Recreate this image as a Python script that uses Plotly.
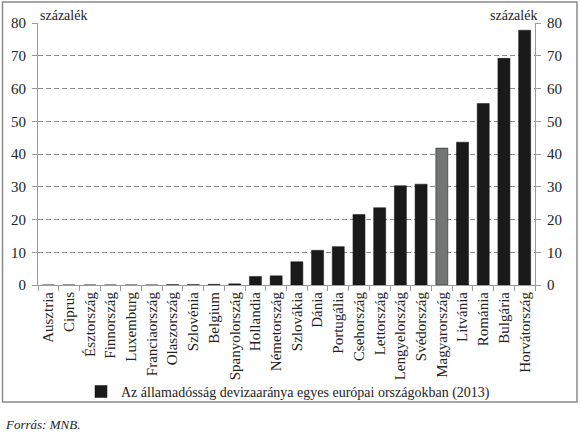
import plotly.graph_objects as go

countries = ["Ausztria", "Ciprus", "Észtország", "Finnország", "Luxemburg",
             "Franciaország", "Olaszország", "Szlovénia", "Belgium", "Spanyolország",
             "Hollandia", "Németország", "Szlovákia", "Dánia", "Portugália",
             "Csehország", "Lettország", "Lengyelország", "Svédország", "Magyarország",
             "Litvánia", "Románia", "Bulgária", "Horvátország"]
values = [0, 0, 0, 0, 0,
          0, 0.1, 0.1, 0.2, 0.35,
          2.6, 2.8, 7.1, 10.6, 11.7,
          21.5, 23.6, 30.3, 30.8, 41.8,
          43.6, 55.4, 69.2, 77.8]
highlight = "Magyarország"
series_name = "Az államadósság devizaaránya egyes európai országokban (2013)"
y_ticks = [0, 10, 20, 30, 40, 50, 60, 70, 80]

FONT = "Liberation Serif"
TXT = "#222222"
bar_colors = ["#737575" if c == highlight else "#1a1a1a" for c in countries]

fig = go.Figure()
fig.add_trace(go.Bar(
    x=countries, y=values, name=series_name,
    marker=dict(color=bar_colors, line=dict(color="#111111", width=0.5)),
    width=0.58, showlegend=True,
))
fig.add_trace(go.Scatter(
    x=countries, y=values, yaxis="y2", mode="none", showlegend=False, hoverinfo="skip",
))

axis_gray = "#9a9a9a"
fig.update_layout(
    width=580, height=437,
    margin=dict(l=38, r=45, t=23, b=152),
    paper_bgcolor="white", plot_bgcolor="white",
    font=dict(family=FONT, size=14, color=TXT),
    xaxis=dict(
        type="category", tickangle=-90, tickson="boundaries",
        ticks="outside", ticklen=5, tickcolor=axis_gray,
        showline=True, linecolor=axis_gray, linewidth=1,
        showgrid=False, tickfont=dict(family=FONT, size=15, color=TXT),
    ),
    yaxis=dict(
        range=[0, 80], tickvals=y_ticks, ticks="outside", ticklen=5,
        tickcolor=axis_gray, showline=True, linecolor=axis_gray, linewidth=1,
        showgrid=True, gridcolor="#8c8c8c", griddash="5px,3px", gridwidth=1,
        zeroline=False, tickfont=dict(family=FONT, size=15, color=TXT),
        ticklabelstandoff=3,
    ),
    yaxis2=dict(
        range=[0, 80], tickvals=y_ticks, overlaying="y", side="right",
        ticks="outside", ticklen=5, tickcolor=axis_gray, showline=True,
        linecolor=axis_gray, linewidth=1, showgrid=False, zeroline=False,
        tickfont=dict(family=FONT, size=15, color=TXT),
        ticklabelstandoff=3,
    ),
    legend=dict(
        orientation="h", x=0.503, xanchor="center", y=-0.408, yanchor="middle",
        font=dict(family=FONT, size=14, color=TXT),
        itemwidth=30, bgcolor="rgba(0,0,0,0)",
    ),
    annotations=[
        dict(text="százalék", xref="paper", yref="paper", x=0.0, y=1.0,
             xanchor="left", yanchor="bottom", showarrow=False,
             font=dict(family=FONT, size=14, color=TXT), yshift=-2),
        dict(text="százalék", xref="paper", yref="paper", x=1.0, y=1.0,
             xanchor="right", yanchor="bottom", showarrow=False,
             font=dict(family=FONT, size=14, color=TXT), xshift=4, yshift=-2),
        dict(text="<i>Forrás: MNB.</i>", xref="paper", yref="paper",
             x=(3 - 38) / 497, y=(285 - 424) / 262, xanchor="left", yanchor="middle",
             showarrow=False, font=dict(family=FONT, size=13, color=TXT)),
    ],
    shapes=[
        dict(type="rect", xref="paper", yref="paper",
             x0=(2.5 - 38) / 497, x1=(577 - 38) / 497,
             y0=(285 - 402) / 262, y1=(285 - 2) / 262,
             line=dict(color="#8a8a8a", width=1.5), fillcolor="rgba(0,0,0,0)",
             layer="below"),
    ],
)

fig.write_html("out.html", config={"displayModeBar": False},
               post_script="document.body.style.margin='0px';")
